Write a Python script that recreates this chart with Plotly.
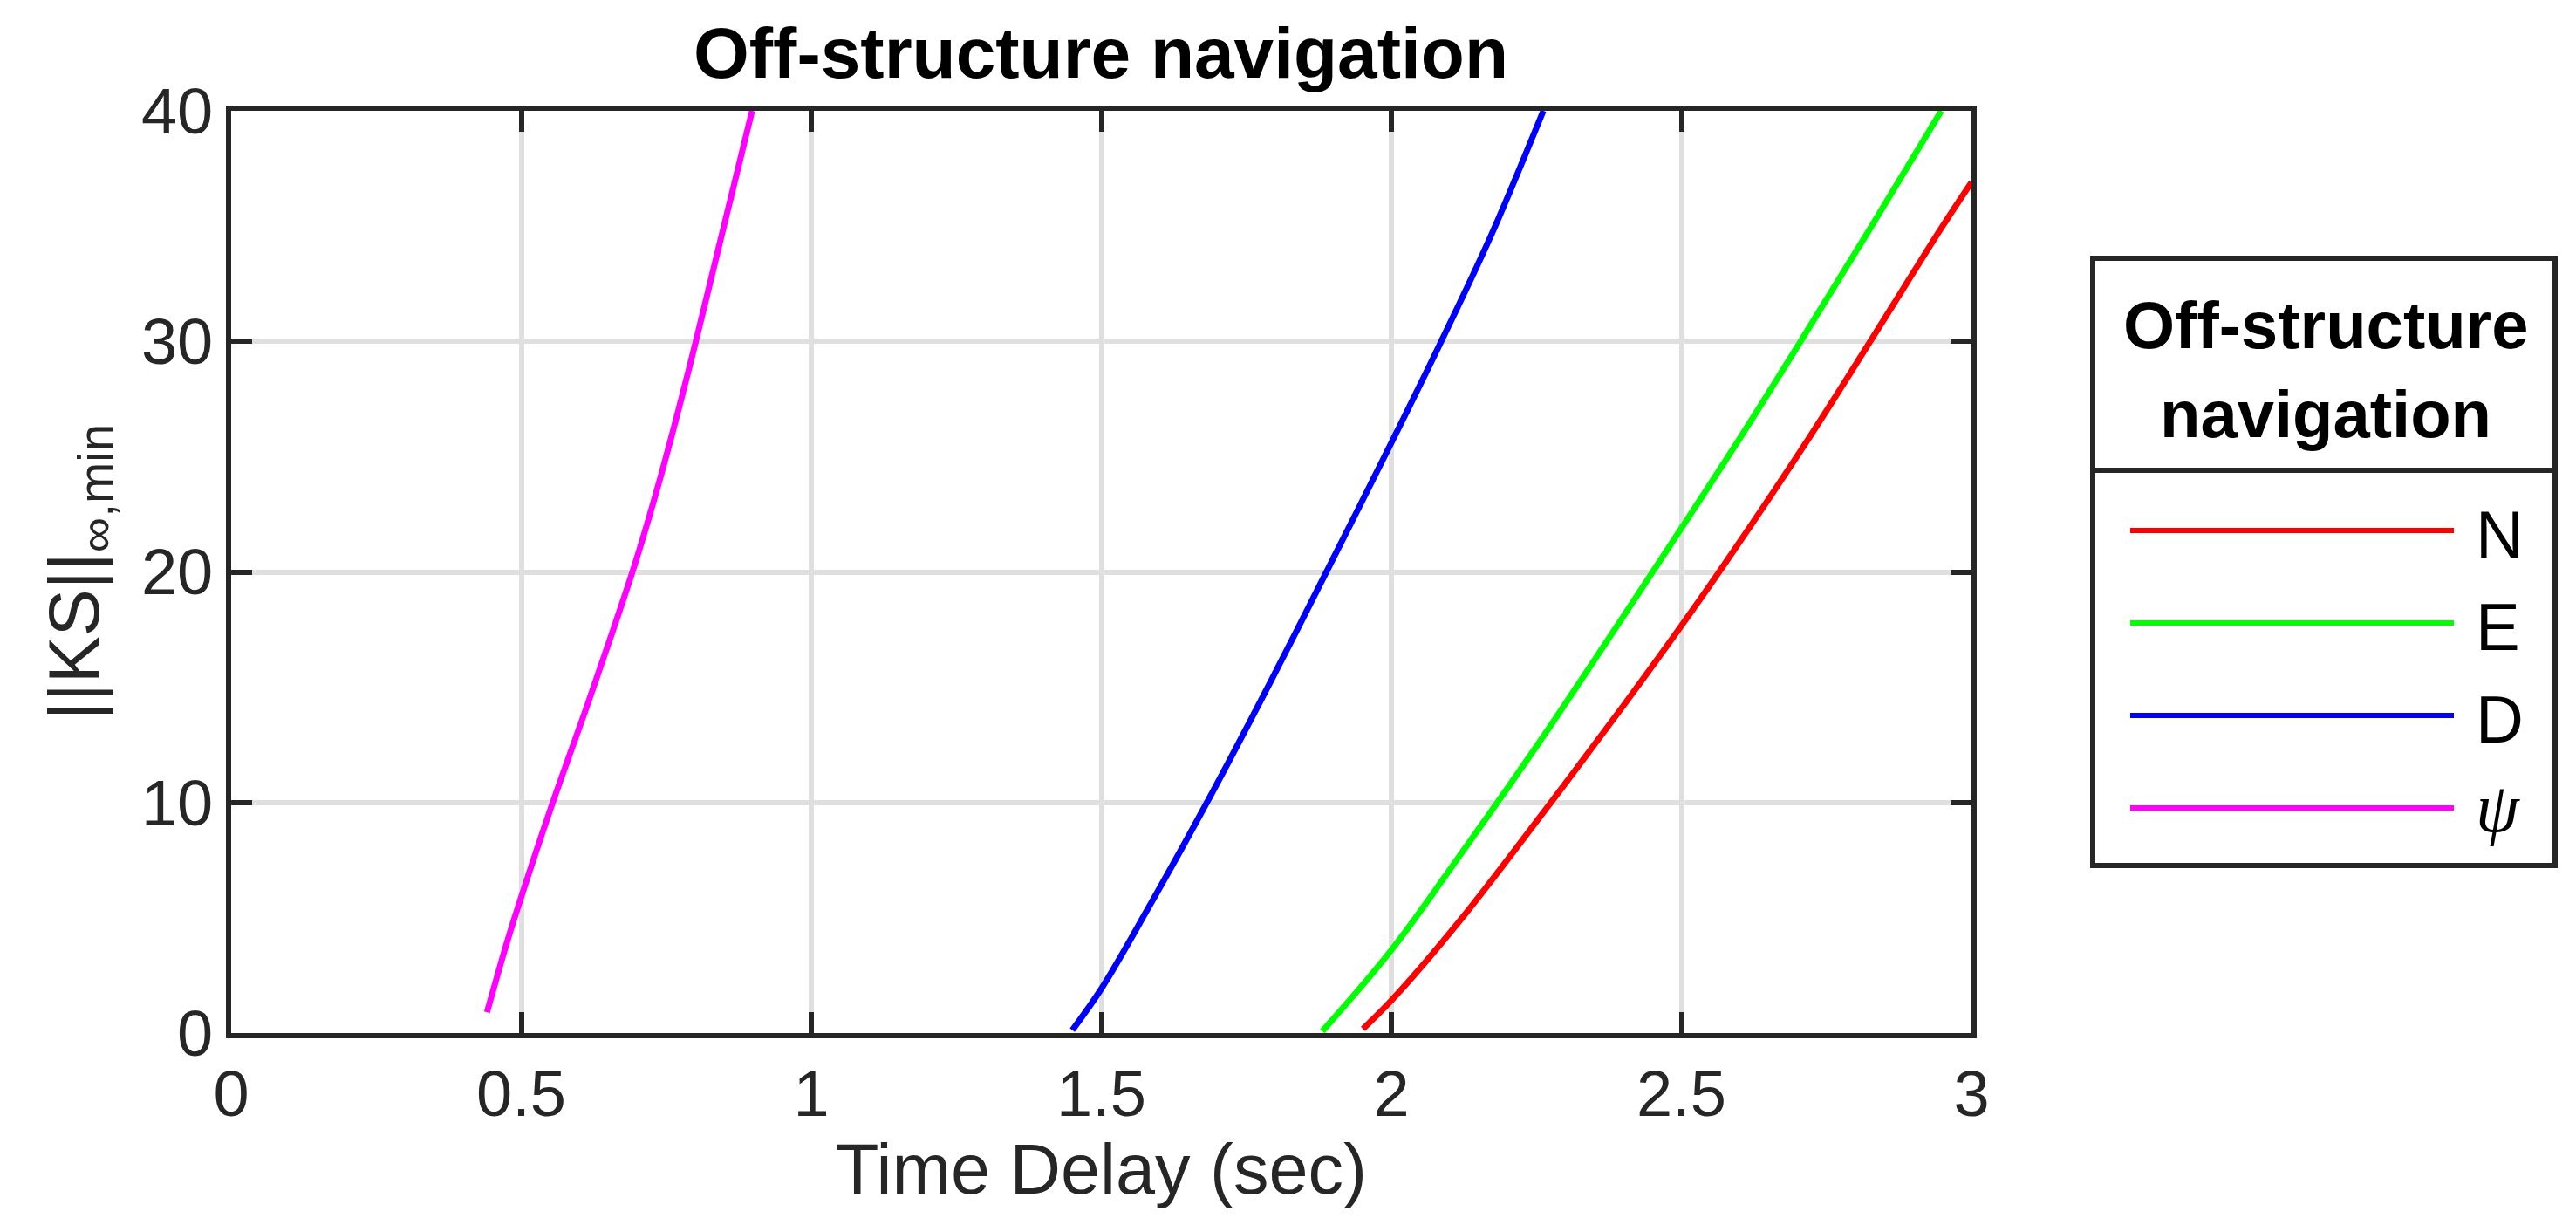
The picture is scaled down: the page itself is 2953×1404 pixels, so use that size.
import plotly.graph_objects as go

# values
series_names = ["N", "E", "D", "ψ"]
series_colors = ["#ff0000", "#00ff00", "#0000ff", "#ff00ff"]

n_delay = [1.951, 2.000, 2.118, 2.260, 2.400, 2.498, 2.565, 2.708, 2.828, 2.949, 3.000]
n_ks = [0.18, 1.41, 4.87, 9.5, 14.2, 17.6, 20.0, 25.35, 30.1, 34.95, 36.9]

e_delay = [1.881, 2.000, 2.118, 2.260, 2.452, 2.588, 2.703, 2.823, 2.948]
e_ks = [0.08, 3.6, 7.7, 12.8, 20.06, 25.3, 29.9, 34.8, 40.0]

d_delay = [1.450, 1.500, 1.580, 1.682, 1.795, 1.886, 2.000, 2.086, 2.172, 2.262]
d_ks = [0.13, 1.92, 5.38, 10.0, 15.4, 19.9, 25.6, 30.0, 34.6, 40.0]

psi_delay = [0.441, 0.475, 0.500, 0.553, 0.615, 0.660, 0.698, 0.740, 0.780, 0.802, 0.846, 0.898]
psi_ks = [0.9, 3.9, 5.9, 9.9, 14.3, 17.6, 20.5, 24.1, 27.9, 30.1, 34.65, 40.0]

x_ticks = [0, 0.5, 1, 1.5, 2, 2.5, 3]
x_ticktext = ["0", "0.5", "1", "1.5", "2", "2.5", "3"]
y_ticks = [0, 10, 20, 30, 40]

W, H = 2953, 1404
L, R, T, B = 257, 2252, 119, 1176
FONT = "Liberation Sans"
AX = "#262626"


def px(x):
    return (x - L) / (R - L)


def py(y):
    return (B - y) / (B - T)


fig = go.Figure()
for name, color, xs, ys in zip(series_names, series_colors,
                               [n_delay, e_delay, d_delay, psi_delay],
                               [n_ks, e_ks, d_ks, psi_ks]):
    fig.add_trace(go.Scatter(
        x=xs, y=ys, name=name, mode="lines",
        line=dict(color=color, width=7, shape="spline", smoothing=1.0),
        showlegend=False,
    ))

axis_common = dict(
    showline=True, linecolor=AX, linewidth=6, mirror="ticks",
    ticks="inside", ticklen=24, tickwidth=6, tickcolor=AX,
    showgrid=True, gridcolor="#dfdfdf", gridwidth=6, zeroline=False,
    tickfont=dict(family=FONT, size=74, color=AX),
)
fig.update_xaxes(
    range=[0, 3], tickvals=x_ticks, ticktext=x_ticktext,
    title=dict(text="Time Delay (sec)", font=dict(family=FONT, size=81, color=AX), standoff=18),
    **axis_common,
)
fig.update_yaxes(
    range=[0, 40], tickvals=y_ticks,
    title=dict(text="||KS||<sub>∞,min</sub>", font=dict(family=FONT, size=81, color=AX), standoff=24),
    **axis_common,
)

# legend box drawn by hand, MATLAB style with a title cell
box = dict(x0=px(2391), x1=px(2921), y0=py(984), y1=py(288))
fig.add_shape(type="rect", xref="paper", yref="paper", **box,
              line=dict(color=AX, width=6), fillcolor="white")
fig.add_shape(type="line", xref="paper", yref="paper",
              x0=box["x0"], x1=box["x1"], y0=py(531), y1=py(531),
              line=dict(color=AX, width=6))
fig.add_annotation(text="<b>Off-structure</b>", xref="paper", yref="paper",
                   x=px(2658), y=py(364), xanchor="center", yanchor="middle",
                   showarrow=False, font=dict(family=FONT, size=76, color="black"))
fig.add_annotation(text="<b>navigation</b>", xref="paper", yref="paper",
                   x=px(2658), y=py(467), xanchor="center", yanchor="middle",
                   showarrow=False, font=dict(family=FONT, size=76, color="black"))
for i, (name, color) in enumerate(zip(series_names, series_colors)):
    yl = 600 + 106 * i
    fig.add_shape(type="line", xref="paper", yref="paper",
                  x0=px(2434), x1=px(2805), y0=py(yl), y1=py(yl),
                  line=dict(color=color, width=6))
    if name == "ψ":
        label = "<i>ψ</i>"
        f = dict(family="Liberation Serif", size=80, color="black")
        yt = yl
    else:
        label = name
        f = dict(family=FONT, size=76, color="black")
        yt = yl + 4
    fig.add_annotation(text=label, xref="paper", yref="paper",
                       x=px(2828), y=py(yt), xanchor="left", yanchor="middle",
                       showarrow=False, font=f)

fig.update_layout(
    width=W, height=H,
    margin=dict(l=L, r=W - R, t=T, b=H - B),
    paper_bgcolor="white", plot_bgcolor="white",
    title=dict(text="<b>Off-structure navigation</b>", x=px(1254), xref="paper",
               y=1 - 52 / H, yanchor="middle",
               font=dict(family=FONT, size=82, color="black")),
    showlegend=False,
)

fig.write_html("out.html")
